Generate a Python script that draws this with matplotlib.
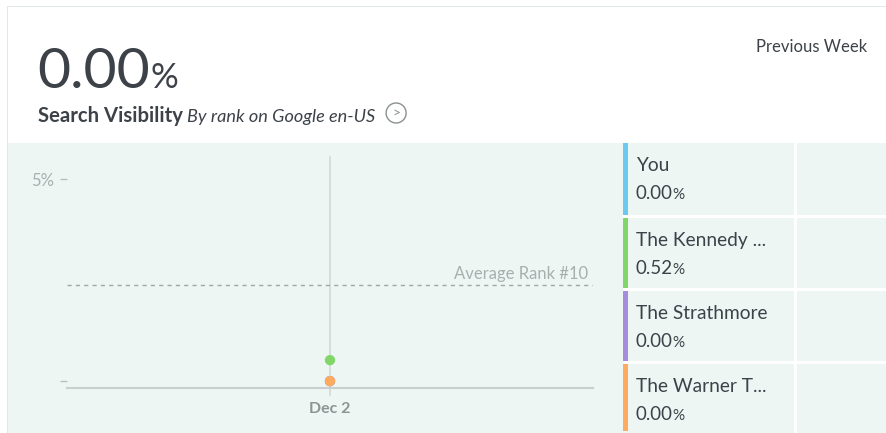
import matplotlib
matplotlib.use('Agg')
import matplotlib.pyplot as plt
from matplotlib.patches import Rectangle, Circle

# Data
dates = ['Dec 2']
series_names = ['You', 'The Kennedy ...', 'The Strathmore', 'The Warner T...']
series_values = [0.00, 0.52, 0.00, 0.00]
series_colors = ['#6CC9F0', '#80D669', '#A68CDD', '#FFAB5F']
avg_rank_value = 2.38
headline_value = 0.00
y_ticks = [0, 5]
y_tick_labels = ['', '5%']

W, H = 887, 433
BG = '#EEF6F4'
DARK = '#3C4248'
GREY = '#A9AEAE'

plt.rcParams['font.family'] = ['Lato', 'DejaVu Sans']

fig = plt.figure(figsize=(W / 100, H / 100), dpi=100)
fig.patch.set_facecolor('white')

def fx(x):
    return x / W

def fy(y):
    return 1 - y / H

def rect(x0, y0, x1, y1, color, z=-2):
    fig.patches.append(Rectangle((fx(x0), fy(y1)), fx(x1) - fx(x0), fy(y0) - fy(y1),
                                 transform=fig.transFigure, facecolor=color,
                                 edgecolor='none', zorder=z))

# card outline and chart section background
rect(7, 6, W, 7, '#E2E8E8')
rect(7, 6, 8, H, '#E2E8E8')
rect(8, 143, W, H, BG)

# legend panel separators
row_edges = [143, 216, 289, 362, 432]
rect(794, 143, 797, H, 'white', -1)
for yb in row_edges[1:-1]:
    rect(623, yb - 1, W, yb + 2, 'white', -1)

renderer = fig.canvas.get_renderer()

def number_pct(x, y, value, size, psize, color, gap=0):
    t = fig.text(fx(x), fy(y), f'{value:.2f}', fontsize=size, color=color,
                 ha='left', va='baseline')
    bb = t.get_window_extent(renderer)
    fig.text((bb.x1 + gap) / W, fy(y), '%', fontsize=psize, color=color,
             ha='left', va='baseline')

for i, (name, val, col) in enumerate(zip(series_names, series_values, series_colors)):
    top = row_edges[i] + (2 if i else 0)
    bot = row_edges[i + 1] - 1
    rect(623, top, 628, bot, col, -1)
    fig.text(fx(636), fy(top + 28), name, fontsize=13.8, color=DARK, ha='left', va='baseline')
    number_pct(636, top + 56, val, 13.5, 11, DARK, gap=-1)

# header
number_pct(37, 88, headline_value, 41, 25, DARK, gap=1)
t = fig.text(fx(38), fy(122), 'Search Visibility', fontsize=14.6, fontweight='bold',
             color=DARK, ha='left', va='baseline')
bb = t.get_window_extent(renderer)
t2 = fig.text(bb.x1 / W + fx(4), fy(122), 'By rank on Google en-US', fontsize=13.1,
              style='italic', color=DARK, ha='left', va='baseline')
bb2 = t2.get_window_extent(renderer)
cx = bb2.x1 + 21
fig.patches.append(Circle((cx / 100, (H - 113) / 100), 0.10, transform=fig.dpi_scale_trans,
                          facecolor='none', edgecolor='#8A9090', lw=1.0))
fig.text(fx(cx), fy(113), '>', fontsize=10, color='#8A9090', ha='center', va='center')
fig.text(fx(867), fy(52), 'Previous Week', fontsize=12, color=DARK, ha='right', va='baseline')

# chart axes
ax = fig.add_axes([fx(67), fy(388), fx(593) - fx(67), fy(150) - fy(388)])
ax.set_zorder(5)
ax.set_facecolor('none')
ax.set_xlim(-1, 1)
ax.set_ylim(-0.17, 5.72)
for s in ['top', 'right', 'left']:
    ax.spines[s].set_visible(False)
ax.spines['bottom'].set_color('#C9CFCF')
ax.spines['bottom'].set_linewidth(1.5)

xs = list(range(len(dates)))
for x in xs:
    ax.axvline(x, ymin=-0.03, ymax=0.97, color='#D3D8D8', lw=1.2, clip_on=False, zorder=1)
ax.axhline(avg_rank_value, color='#A0A5A5', lw=1.0, ls=(0, (3, 3)), zorder=1)
ax.text(0.99, avg_rank_value + 0.15, 'Average Rank #10', transform=ax.get_yaxis_transform(),
        ha='right', va='baseline', fontsize=12, color=GREY)

for name, val, col in zip(series_names, series_values, series_colors):
    ax.scatter(xs, [val] * len(xs), s=55, color=col, zorder=3, edgecolors='none', clip_on=False)

ax.set_yticks(y_ticks)
ax.set_yticklabels(y_tick_labels)
ax.tick_params(axis='y', length=5, width=1, color='#B8BDBD', labelcolor=GREY,
               labelsize=12, pad=4)
ax.set_xticks(xs)
ax.set_xticklabels(dates, fontweight='bold')
ax.tick_params(axis='x', length=0, labelcolor='#8E9494', labelsize=11.5, pad=10)

plt.savefig('out.png', dpi=100)
